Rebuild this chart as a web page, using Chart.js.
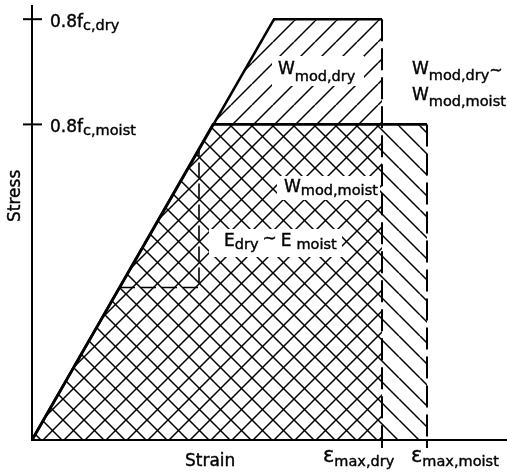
<!DOCTYPE html>
<html>
<head>
<meta charset="utf-8">
<script src="https://cdn.jsdelivr.net/npm/chart.js@4.4.1/dist/chart.umd.min.js"></script>
<style>
  body { margin: 0; background: #fff; }
  canvas { display: block; }
</style>
</head>
<body>
<canvas id="chart" width="507" height="473"></canvas>
<script>
// Idealised stress-strain envelopes (strain in per mille, stress as fraction of f_c,dry)
const dryStrain = [0, 2.42, 3.5, 3.5];
const dryStress = [0, 0.8, 0.8, 0];
const moistStrain = [0, 1.81, 3.95, 3.95];
const moistStress = [0, 0.6, 0.6, 0];

// little slope marker on the elastic branch
const slopeStrain = [0.88, 1.67, 1.67];
const slopeStress = [0.29, 0.29, 0.55];

const stressTicks = [0.8, 0.6];
const stressTickLabels = [['0.8f', 'c,dry'], ['0.8f', 'c,moist']];
const strainTicks = [3.5, 3.95];
const strainTickLabels = [['ε', 'max,dry'], ['ε', 'max,moist']];

const FONT = '"DejaVu Sans", sans-serif';
const canvas = document.getElementById('chart');
const ctx = canvas.getContext('2d');

// 45 degree hatch patterns: '/' for the dry area, '\' for the moist one
function hatch(dir) {
  const s = 21;
  const tile = document.createElement('canvas');
  tile.width = tile.height = s;
  const g = tile.getContext('2d');
  g.strokeStyle = '#000';
  g.lineWidth = 1.5;
  g.beginPath();
  for (let k = -1; k <= 1; k++) {
    if (dir === '/') { g.moveTo(k * s, s); g.lineTo(k * s + s, 0); }
    else { g.moveTo(k * s, 0); g.lineTo(k * s + s, s); }
  }
  g.stroke();
  return ctx.createPattern(tile, 'repeat');
}

const pts = (xs, ys) => xs.map((x, i) => ({ x, y: ys[i] }));

// hatched area under an envelope, no outline
function area(xs, ys, pattern) {
  return {
    data: pts(xs, ys), showLine: true, fill: 'origin',
    backgroundColor: pattern, borderWidth: 0, pointRadius: 0, clip: false
  };
}

function outline(xs, ys, width, dash) {
  return {
    data: pts(xs, ys), showLine: true, fill: false,
    borderColor: '#000', borderWidth: width, borderDash: dash,
    borderJoinStyle: 'miter', pointRadius: 0, clip: false
  };
}

// draws a run of text pieces (main text + subscripts), returns end x
function runs(x, y, parts) {
  parts.forEach(p => {
    ctx.font = p.size + 'px ' + FONT;
    ctx.fillText(p.t, x, y + (p.dy || 0));
    ctx.strokeText(p.t, x, y + (p.dy || 0));
    x += ctx.measureText(p.t).width + (p.gap || 0);
  });
  return x;
}

const notes = [
  { box: [272, 56, 364, 86], x: 278, y: 74, parts: [{ t: 'W', size: 17 }, { t: 'mod,dry', size: 14.5, dy: 7 }] },
  { box: [277, 176, 380, 200], x: 284, y: 192, parts: [{ t: 'W', size: 17 }, { t: 'mod,moist', size: 14.5, dy: 3 }] },
  { box: [209, 229, 342, 257], x: 224, y: 246, parts: [
      { t: 'E', size: 17 }, { t: 'dry', size: 14.5, dy: 3, gap: 4 }, { t: '~', size: 17, dy: -2, gap: 4 },
      { t: 'E', size: 17, gap: 5 }, { t: 'moist', size: 14.5, dy: 3 }] },
  { x: 412, y: 74, parts: [{ t: 'W', size: 17 }, { t: 'mod,dry', size: 14.5, dy: 6 }, { t: '~', size: 16, dy: 1 }] },
  { x: 412, y: 100, parts: [{ t: 'W', size: 17 }, { t: 'mod,moist', size: 14.5, dy: 6 }] }
];

const axesAndLabels = {
  id: 'axesAndLabels',
  afterDatasetsDraw(chart) {
    const { chartArea: a, scales: { x, y } } = chart;
    ctx.save();
    ctx.strokeStyle = '#000';
    ctx.fillStyle = '#000';
    ctx.lineWidth = 2;
    ctx.setLineDash([]);

    // axes
    ctx.beginPath();
    ctx.moveTo(a.left, a.top);
    ctx.lineTo(a.left, a.bottom);
    ctx.lineTo(chart.width, a.bottom);
    ctx.stroke();

    // tick marks
    stressTicks.forEach(v => {
      const py = y.getPixelForValue(v);
      ctx.beginPath();
      ctx.moveTo(a.left - 9, py);
      ctx.lineTo(a.left + 10, py);
      ctx.stroke();
    });
    strainTicks.forEach(v => {
      const px = x.getPixelForValue(v);
      ctx.beginPath();
      ctx.moveTo(px, a.bottom);
      ctx.lineTo(px, a.bottom + 8);
      ctx.stroke();
    });

    // text gets a hairline stroke to thicken the glyphs a little
    ctx.lineWidth = 0.4;
    stressTicks.forEach((v, i) => {
      runs(a.left + 18, y.getPixelForValue(v) + 8, [
        { t: stressTickLabels[i][0], size: 17 },
        { t: stressTickLabels[i][1], size: 14.5, dy: 3 }
      ]);
    });
    strainTicks.forEach((v, i) => {
      const px = x.getPixelForValue(v);
      runs(i ? px - 16 : px - 59, a.bottom + 22, [
        { t: strainTickLabels[i][0], size: 21 },
        { t: strainTickLabels[i][1], size: 14.5, dy: 4 }
      ]);
    });

    // annotations sitting on white patches over the hatching
    notes.forEach(n => {
      if (n.box) {
        ctx.fillStyle = '#fff';
        ctx.fillRect(n.box[0], n.box[1], n.box[2] - n.box[0], n.box[3] - n.box[1]);
        ctx.fillStyle = '#000';
      }
      runs(n.x, n.y, n.parts);
    });

    // axis titles
    runs(185, 466, [{ t: 'Strain', size: 17 }]);
    ctx.translate(20, 222);
    ctx.rotate(-Math.PI / 2);
    runs(0, 0, [{ t: 'Stress', size: 17 }]);
    ctx.restore();
  }
};

new Chart(canvas, {
  type: 'scatter',
  data: {
    datasets: [
      // outlines first so they sit on top of the hatching
      outline(dryStrain.slice(0, 3), dryStress.slice(0, 3), 2.6),
      outline(dryStrain.slice(2), dryStress.slice(2), 2, [22, 7]),
      outline(moistStrain.slice(0, 3), moistStress.slice(0, 3), 2.6),
      outline(moistStrain.slice(2), moistStress.slice(2), 2, [22, 7]),
      outline(slopeStrain, slopeStress, 1.6, [15, 6]),
      area(dryStrain, dryStress, hatch('/')),
      area(moistStrain, moistStress, hatch('\\'))
    ]
  },
  options: {
    responsive: false,
    animation: false,
    layout: { padding: { left: 32, top: 5, right: 0, bottom: 33 } },
    scales: {
      x: { type: 'linear', display: false, min: 0, max: 4.75 },
      y: { type: 'linear', display: false, min: 0, max: 0.827 }
    },
    plugins: { legend: { display: false }, tooltip: { enabled: false } }
  },
  plugins: [axesAndLabels]
});
</script>
</body>
</html>
